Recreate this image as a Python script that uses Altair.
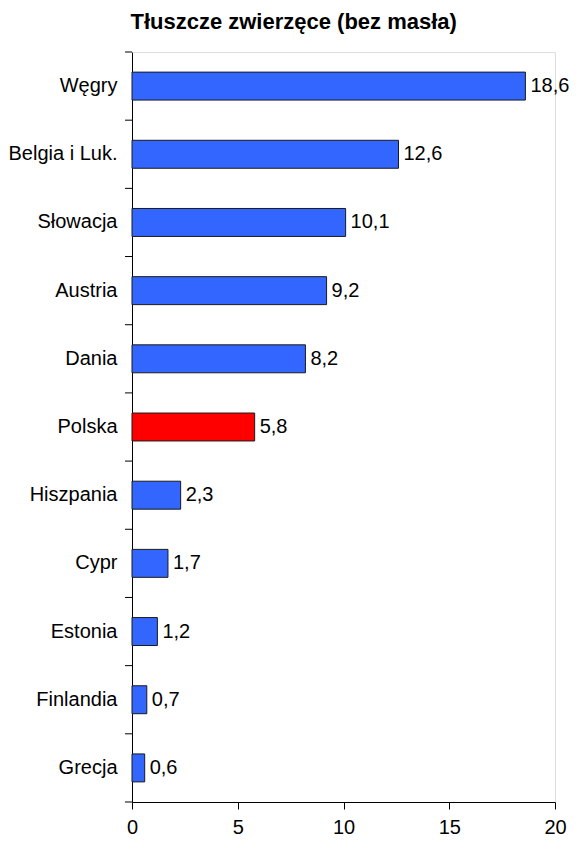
import altair as alt
import pandas as pd

categories = ["Węgry", "Belgia i Luk.", "Słowacja", "Austria", "Dania", "Polska",
              "Hiszpania", "Cypr", "Estonia", "Finlandia", "Grecja"]
values = [18.6, 12.6, 10.1, 9.2, 8.2, 5.8, 2.3, 1.7, 1.2, 0.7, 0.6]
highlight = "Polska"
x_ticks = [0, 5, 10, 15, 20]

df = pd.DataFrame({"kraj": categories, "wartosc": values})
df["etykieta"] = [f"{v:.1f}".replace(".", ",") for v in values]
df["grupa"] = ["pl" if c == highlight else "inne" for c in categories]

FONT = "Liberation Sans"
W, H = 423, 750
FS = 20

yscale = alt.Scale(paddingInner=0, paddingOuter=0)

base = alt.Chart(df)

bars = base.mark_bar(
    height=alt.RelativeBandSize(0.41), stroke="#1a1a1a", strokeWidth=1
).encode(
    y=alt.Y("kraj:N", sort=categories, scale=yscale,
            axis=alt.Axis(title=None, ticks=False, labelPadding=15, labelFontSize=FS,
                          labelFont=FONT, labelColor="black", domainColor="black",
                          domainWidth=1)),
    x=alt.X("wartosc:Q", scale=alt.Scale(domain=[0, 20], nice=False),
            axis=alt.Axis(title=None, values=x_ticks, tickSize=7, labelPadding=8,
                          labelFontSize=FS, labelFont=FONT, labelColor="black",
                          domainColor="black", tickColor="black", grid=False,
                          format="d", labelFlush=False)),
    color=alt.Color("grupa:N", scale=alt.Scale(domain=["inne", "pl"],
                                                range=["#3366FF", "#FF0000"]),
                    legend=None),
)

labels = base.mark_text(align="left", baseline="middle", dx=5, fontSize=FS,
                        font=FONT, color="black").encode(
    y=alt.Y("kraj:N", sort=categories, scale=yscale),
    x=alt.X("wartosc:Q"),
    text="etykieta:N",
)

ticks = base.mark_rule(color="black", strokeWidth=1).encode(
    y=alt.Y("kraj:N", sort=categories, scale=yscale, bandPosition=0),
    x=alt.value(-7),
    x2=alt.value(0),
)

bottom_tick = alt.Chart(df.tail(1)).mark_rule(color="black", strokeWidth=1).encode(
    y=alt.Y("kraj:N", sort=categories, scale=yscale, bandPosition=1),
    x=alt.value(-7),
    x2=alt.value(0),
)

chart = alt.layer(bars, labels, ticks, bottom_tick).properties(
    width=W, height=H, padding={"left": 0, "right": 0, "top": 2, "bottom": 0},
    title=alt.TitleParams("Tłuszcze zwierzęce (bez masła)", font=FONT, fontSize=22,
                          fontWeight="bold", color="black", anchor="middle",
                          frame="bounds", offset=18, dx=5),
).configure_view(stroke=None).configure(background="white")

chart.save("out.html", embed_options={"renderer": "svg", "actions": False})
